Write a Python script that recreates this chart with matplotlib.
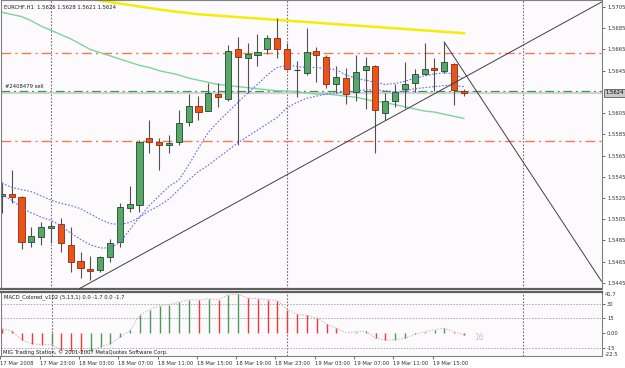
import numpy as np
import matplotlib.pyplot as plt
from matplotlib.patches import Rectangle

# EURCHF H1, bars from 17 Mar 19:00 (-5) to 19 Mar 18:00 (42); 0 = 18 Mar 00:00
bars = list(range(-5, 43))
opens = [1.5527, 1.5529, 1.5526, 1.5484, 1.5488, 1.5497, 1.5501, 1.5481, 1.5466, 1.5458, 1.5457, 1.5469,
         1.5484, 1.5516, 1.5518, 1.5582, 1.5578, 1.5575, 1.5578, 1.5597, 1.5612, 1.5607, 1.5623, 1.5618,
         1.5665, 1.5657, 1.5660, 1.5665, 1.5676, 1.5665, 1.5646, 1.5643, 1.5664, 1.5658, 1.5632, 1.5638,
         1.5625, 1.5646, 1.5649, 1.5605, 1.5616, 1.5628, 1.5633, 1.5642, 1.5648, 1.5645, 1.5651, 1.5626]
highs = [1.5540, 1.5551, 1.5527, 1.5498, 1.5502, 1.5502, 1.5506, 1.5498, 1.5474, 1.5470, 1.5470, 1.5486,
         1.5520, 1.5536, 1.5580, 1.5599, 1.5582, 1.5584, 1.5608, 1.5623, 1.5621, 1.5633, 1.5633, 1.5669,
         1.5677, 1.5671, 1.5680, 1.5679, 1.5695, 1.5671, 1.5654, 1.5685, 1.5667, 1.5660, 1.5649, 1.5648,
         1.5660, 1.5658, 1.5650, 1.5624, 1.5632, 1.5653, 1.5647, 1.5671, 1.5657, 1.5672, 1.5652, 1.5628]
lows = [1.5511, 1.5520, 1.5477, 1.5479, 1.5481, 1.5483, 1.5474, 1.5455, 1.5450, 1.5448, 1.5455, 1.5465,
        1.5479, 1.5512, 1.5512, 1.5567, 1.5551, 1.5567, 1.5575, 1.5593, 1.5599, 1.5607, 1.5611, 1.5616,
        1.5575, 1.5624, 1.5649, 1.5661, 1.5657, 1.5646, 1.5620, 1.5641, 1.5634, 1.5629, 1.5624, 1.5614,
        1.5616, 1.5609, 1.5567, 1.5599, 1.5611, 1.5610, 1.5625, 1.5641, 1.5626, 1.5643, 1.5613, 1.5621]
closes = [1.5529, 1.5526, 1.5484, 1.5489, 1.5498, 1.5499, 1.5483, 1.5465, 1.5459, 1.5456, 1.5469, 1.5483,
          1.5517, 1.5519, 1.5578, 1.5578, 1.5575, 1.5577, 1.5596, 1.5612, 1.5606, 1.5624, 1.5620, 1.5664,
          1.5658, 1.5661, 1.5663, 1.5676, 1.5665, 1.5647, 1.5646, 1.5663, 1.5660, 1.5632, 1.5639, 1.5623,
          1.5644, 1.5649, 1.5608, 1.5616, 1.5625, 1.5632, 1.5642, 1.5647, 1.5646, 1.5653, 1.5627, 1.5624]

ma_fast = [1.5528, 1.5523, 1.5516, 1.5511, 1.5507, 1.5504, 1.5499, 1.5492, 1.5486, 1.5481, 1.5478, 1.5478,
           1.5483, 1.5495, 1.5507, 1.5518, 1.5527, 1.5536, 1.5542, 1.5556, 1.5572, 1.5587, 1.5597, 1.5606,
           1.5615, 1.5624, 1.5632, 1.5641, 1.5648, 1.5650, 1.5649, 1.5648, 1.5648, 1.5647, 1.5646, 1.5641,
           1.5638, 1.5636, 1.5634, 1.5632, 1.5633, 1.5635, 1.5638, 1.5640, 1.5642, 1.5643, 1.5642, 1.5637]
ma_slow = [1.5539, 1.5535, 1.5533, 1.5531, 1.5527, 1.5523, 1.5520, 1.5518, 1.5515, 1.5510, 1.5505, 1.5501,
           1.5500, 1.5502, 1.5507, 1.5513, 1.5518, 1.5524, 1.5533, 1.5542, 1.5550, 1.5556, 1.5563, 1.5570,
           1.5577, 1.5583, 1.5589, 1.5595, 1.5601, 1.5610, 1.5615, 1.5619, 1.5621, 1.5623, 1.5624, 1.5625,
           1.5626, 1.5627, 1.5627, 1.5626, 1.5625, 1.5626, 1.5628, 1.5629, 1.5630, 1.5631, 1.5631, 1.5630]
ma_green = [1.5700, 1.5698, 1.5696, 1.5692, 1.5687, 1.5683, 1.5679, 1.5675, 1.5670, 1.5665, 1.5662, 1.5659,
            1.5656, 1.5653, 1.5650, 1.5648, 1.5645, 1.5643, 1.5641, 1.5638, 1.5636, 1.5634, 1.5632, 1.5631,
            1.5630, 1.5629, 1.5628, 1.5627, 1.5626, 1.5626, 1.5625, 1.5624, 1.5623, 1.5623, 1.5622, 1.5621,
            1.5620, 1.5618, 1.5616, 1.5615, 1.5613, 1.5611, 1.5609, 1.5607, 1.5606, 1.5604, 1.5602, 1.5600]
yellow_bars = list(range(4, 43))
ma_yellow = [1.57125, 1.57111, 1.57097, 1.57083, 1.57069, 1.57055, 1.57040, 1.57027, 1.57014, 1.57003,
             1.56992, 1.56982, 1.56975, 1.56968, 1.56961, 1.56955, 1.56948, 1.56942, 1.56935, 1.56928,
             1.56922, 1.56915, 1.56909, 1.56902, 1.56895, 1.56889, 1.56882, 1.56876, 1.56869, 1.56862,
             1.56856, 1.56849, 1.56843, 1.56836, 1.56829, 1.56823, 1.56816, 1.56810, 1.56803]

macd = [4.5, 2.0, -7.0, -10.5, -11.8, -11.2, -17.0, -17.5, -19.0, -17.5, -13.5, -10.5,
        -4.0, 3.0, 18.5, 24.0, 28.0, 29.0, 31.5, 34.0, 33.5, 35.0, 34.0, 39.0,
        39.5, 35.5, 35.0, 34.0, 33.0, 24.0, 19.0, 18.0, 15.5, 9.3, 5.0, 0.5,
        1.5, 2.0, -5.0, -7.0, -6.5, -5.0, -1.0, 1.5, 3.5, 5.0, 1.5, -1.7]

sl_price, tp_price = 1.56614, 1.55790
order_price, bid = 1.5626, 1.5624
trend_up = [(5, 1.54504), (41, 1.56334)]
trend_down = [(40, 1.5672), (48, 1.55593)]
day_breaks = [0, 24, 48]
price_ticks = [1.5705, 1.5685, 1.5665, 1.5645, 1.5605, 1.5585, 1.5565, 1.5545,
               1.5525, 1.5505, 1.5485, 1.5465, 1.5445]
time_ticks = [-5, -1, 3, 7, 11, 15, 19, 23, 27, 31, 35, 39]
time_labels = ['17 Mar 2008', '17 Mar 23:00', '18 Mar 03:00', '18 Mar 07:00', '18 Mar 11:00',
               '18 Mar 15:00', '18 Mar 19:00', '18 Mar 23:00', '19 Mar 03:00', '19 Mar 07:00',
               '19 Mar 11:00', '19 Mar 15:00']

W, H = 625, 368
FS = 3.8
BG = '#fcfafc'


def box(x0, y0, x1, y1):
    return [x0 / W, 1 - y1 / H, (x1 - x0) / W, (y1 - y0) / H]


fig = plt.figure(figsize=(W / 100, H / 100), dpi=100)
fig.patch.set_facecolor('white')
ax = fig.add_axes(box(0.5, 0, 601.5, 289))
sub = fig.add_axes(box(0.5, 292, 601.5, 355.5))

xlim = (-5.14, 56.0)
for a in (ax, sub):
    a.set_facecolor(BG)
    a.set_xlim(*xlim)
    for s in a.spines.values():
        s.set_color('#808080')
        s.set_linewidth(0.8)
    for d in day_breaks:
        a.axvline(d, color='#707070', lw=0.8, ls=(0, (1.5, 1.5)), zorder=1)
ax.spines['bottom'].set_color('#606060')
ax.spines['bottom'].set_linewidth(1.6)
sub.spines['top'].set_color('#606060')
sub.spines['top'].set_linewidth(1.6)
ax.set_ylim(1.54393, 1.57116)

# horizontal lines: bid, order, stop/target
ax.axhline(bid, color='#d2d2d2', lw=1.6, zorder=1)
ax.axhline(order_price, color='#3c9a4a', lw=0.9, dashes=(7, 3, 1.5, 3), zorder=2)
for p in (sl_price, tp_price):
    ax.axhline(p, color='#f47a55', lw=1.0, dashes=(7, 3, 1.5, 3), zorder=2)

# moving averages
ax.plot(yellow_bars, ma_yellow, color='#f4ee00', lw=1.8, zorder=2)
ax.plot(bars, ma_green, color='#7fd3a0', lw=1.0, zorder=2)

# candles
w = 0.62
for h, o, hi, lo, c in zip(bars, opens, highs, lows, closes):
    ax.vlines(h, lo, hi, color='#505050', lw=0.8, zorder=3)
    if c > o:
        ax.add_patch(Rectangle((h - w / 2, o), w, c - o, facecolor='#57a867',
                               edgecolor='#1f4a2c', lw=0.6, zorder=4))
    elif c < o:
        ax.add_patch(Rectangle((h - w / 2, c), w, o - c, facecolor='#ec5314',
                               edgecolor='#8a2a10', lw=0.6, zorder=4))
    else:
        ax.hlines(o, h - w / 2, h + w / 2, color='#404040', lw=0.8, zorder=4)

ax.plot(bars, ma_fast, color='#6a6af0', lw=0.8, ls=(0, (1.5, 1.5)), zorder=5)
ax.plot(bars, ma_slow, color='#6a6af0', lw=0.8, ls=(0, (1.5, 1.5)), zorder=5)

# trend lines
ax.axline(trend_up[0], trend_up[1], color='#404040', lw=0.7, zorder=5)
(x0, y0), (x1, y1) = trend_down
slope = (y1 - y0) / (x1 - x0)
ax.plot([x0, xlim[1]], [y0, y0 + slope * (xlim[1] - x0)], color='#404040', lw=0.7, zorder=5)

ax.set_xticks([])
ax.yaxis.tick_right()
ax.set_yticks(price_ticks)
ax.set_yticklabels(['%.4f' % p for p in price_ticks])
ax.tick_params(axis='y', length=2, width=0.5, colors='#303030', labelsize=FS, pad=2)
ax.text(1.007, bid, '%.4f' % bid, transform=ax.get_yaxis_transform(), fontsize=FS,
        va='center', ha='left', color='#000000',
        bbox=dict(boxstyle='square,pad=0.25', fc='#c8c8c8', ec='#404040', lw=0.5))

# MACD subwindow
sub.set_ylim(-22.5, 41.7)
for lvl in (30, 15, -15):
    sub.axhline(lvl, color='#a8a8a8', lw=0.7, ls=(0, (1.5, 1.5)), zorder=1)
prev = None
for h, v in zip(bars, macd):
    col = '#4a9a5a' if prev is not None and v > prev else '#f03a3a'
    sub.vlines(h, 0, v, color=col, lw=1.0, zorder=3)
    prev = v
sub.plot(bars, macd, color='#cfb4b4', lw=0.7, ls=(0, (1.5, 1.5)), zorder=2)
sub.text(43, 0, '16', fontsize=5.5, color='#c4c4c4', va='top', ha='left')

sub.yaxis.tick_right()
sub.set_yticks([30, 15, 0, -15])
sub.set_yticklabels(['30', '15', '0.00', '-15'])
sub.tick_params(axis='y', length=2, width=0.5, colors='#303030', labelsize=FS, pad=2)
sub.set_xticks([t - 0.2 for t in time_ticks])
sub.set_xticklabels(time_labels)
sub.tick_params(axis='x', length=2, width=0.5, colors='#303030', labelsize=FS, pad=2)
for lab in sub.get_xticklabels():
    lab.set_ha('left')

# captions
fig.text(4 / W, 1 - 7 / H, 'EURCHF,H1  1.5626 1.5628 1.5621 1.5624', fontsize=FS, va='center', color='#202020')
fig.text(5 / W, 1 - 87 / H, '#2408479 sell', fontsize=FS, va='center', color='#202020')
fig.text(4 / W, 1 - 297.5 / H, 'MACD_Colored_v102 (5,13,1) 0.0 -1.7 0.0 -1.7', fontsize=FS, va='center', color='#202020')
fig.text(3 / W, 1 - 352 / H, 'MIG Trading Station, \u00a9 2001-2007 MetaQuotes Software Corp.', fontsize=FS,
         va='center', color='#202020')
fig.text(605 / W, 1 - 295 / H, '41.7', fontsize=FS, va='center', color='#303030')
fig.text(605 / W, 1 - 354 / H, '-22.5', fontsize=FS, va='center', color='#303030')

fig.savefig('out.png', dpi=100, facecolor='white')
